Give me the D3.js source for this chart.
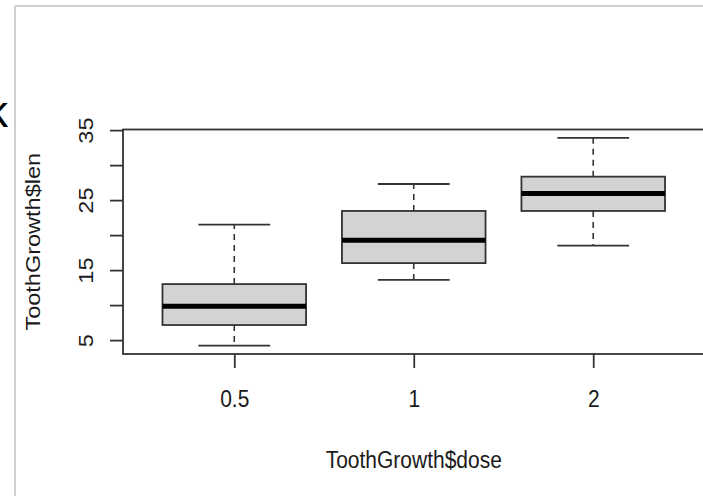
<!DOCTYPE html>
<html>
<head>
<meta charset="UTF-8">
<title>ToothGrowth boxplot</title>
<style>
    body { margin: 0; background: #fff; }
    text { font-family: "Liberation Sans", Arial, sans-serif; fill: #1a1a1a; }
</style>
</head>
<body>
<script src="https://cdn.jsdelivr.net/npm/d3@7"></script>
<svg id="svg" width="703" height="496"></svg>
<script>
    // boxplot stats per dose group (whisker low, lower hinge, median, upper hinge, whisker high)
    var doses = ["0.5", "1", "2"];
    var lowWhisker = [4.2, 13.6, 18.5];
    var lowerHinge = [7.15, 16.0, 23.45];
    var medians = [9.85, 19.25, 25.95];
    var upperHinge = [13.0, 23.45, 28.35];
    var highWhisker = [21.5, 27.3, 33.9];
    var yTicks = [5, 10, 15, 20, 25, 30, 35];
    var yLabelled = [5, 15, 25, 35];

    var svg = d3.select("#svg"),
        stretch = 1.12; // the screenshot is a bit taller than wide

    // page frame of the screenshot
    svg.append("line").attr("x1", 15).attr("y1", 6).attr("x2", 15).attr("y2", 496)
        .attr("stroke", "#cfcfcf").attr("stroke-width", 2);
    svg.append("line").attr("x1", 15).attr("y1", 6).attr("x2", 703).attr("y2", 6)
        .attr("stroke", "#cfcfcf").attr("stroke-width", 2);
    // cut off letter at the left edge
    svg.append("text").attr("x", 8).attr("y", 127).attr("text-anchor", "end")
        .style("font-size", "44px").style("fill", "#000").text("k");

    var x = d3.scaleLinear().domain([0.38, 3.62]).range([123, 704.5]),
        y = d3.scaleLinear().domain([3.012, 35.088]).range([354, 129.5]);

    var g = svg.append("g");

    // y axis
    var yAxis = g.append("g").attr("transform", "translate(123,0)")
        .call(d3.axisLeft(y).tickValues(yTicks).tickSize(13)
            .tickFormat(function (d) { return yLabelled.indexOf(d) >= 0 ? d : ""; }));
    yAxis.select(".domain").remove();
    yAxis.selectAll("line").attr("stroke", "#333").attr("stroke-width", 1.8);
    yAxis.selectAll("text").attr("x", 0).attr("dy", 0).attr("text-anchor", "middle")
        .attr("transform", "translate(-30,0) scale(1," + stretch + ") rotate(-90)")
        .attr("font-family", null).attr("font-size", null).style("font-size", "21px");

    // x axis
    var xAxis = g.append("g").attr("transform", "translate(0,354)")
        .call(d3.axisBottom(x).tickValues([1, 2, 3]).tickSize(14)
            .tickFormat(function (d) { return doses[d - 1]; }));
    xAxis.select(".domain").remove();
    xAxis.selectAll("line").attr("stroke", "#333").attr("stroke-width", 1.8);
    xAxis.selectAll("text").attr("y", 0).attr("dy", 0)
        .attr("transform", "translate(0,53) scale(1," + stretch + ")")
        .attr("font-family", null).attr("font-size", null).style("font-size", "21px");

    // boxes
    doses.forEach(function (d, i) {
        var c = i + 1;
        // whiskers
        g.append("line").attr("x1", x(c)).attr("x2", x(c))
            .attr("y1", y(upperHinge[i])).attr("y2", y(highWhisker[i]))
            .attr("stroke", "#333").attr("stroke-width", 1.6).attr("stroke-dasharray", "6,5");
        g.append("line").attr("x1", x(c)).attr("x2", x(c))
            .attr("y1", y(lowerHinge[i])).attr("y2", y(lowWhisker[i]))
            .attr("stroke", "#333").attr("stroke-width", 1.6).attr("stroke-dasharray", "6,5");
        // staples
        g.append("line").attr("x1", x(c - 0.2)).attr("x2", x(c + 0.2))
            .attr("y1", y(highWhisker[i])).attr("y2", y(highWhisker[i]))
            .attr("stroke", "#333").attr("stroke-width", 1.8);
        g.append("line").attr("x1", x(c - 0.2)).attr("x2", x(c + 0.2))
            .attr("y1", y(lowWhisker[i])).attr("y2", y(lowWhisker[i]))
            .attr("stroke", "#333").attr("stroke-width", 1.8);
        // box
        g.append("rect").attr("x", x(c - 0.4)).attr("width", x(c + 0.4) - x(c - 0.4))
            .attr("y", y(upperHinge[i])).attr("height", y(lowerHinge[i]) - y(upperHinge[i]))
            .attr("fill", "#d3d3d3").attr("stroke", "#333").attr("stroke-width", 1.8);
        // median
        g.append("line").attr("x1", x(c - 0.4)).attr("x2", x(c + 0.4))
            .attr("y1", y(medians[i])).attr("y2", y(medians[i]))
            .attr("stroke", "#000").attr("stroke-width", 5);
    });

    // plot frame
    g.append("rect").attr("x", x(0.38)).attr("y", y(35.088))
        .attr("width", x(3.62) - x(0.38)).attr("height", y(3.012) - y(35.088))
        .attr("fill", "none").attr("stroke", "#333").attr("stroke-width", 1.8);

    // axis titles
    g.append("text").attr("text-anchor", "middle")
        .attr("transform", "translate(" + x(2) + ",468) scale(1," + stretch + ")")
        .style("font-size", "21px").text("ToothGrowth$dose");
    g.append("text").attr("text-anchor", "middle")
        .attr("transform", "translate(40," + ((y(3.012) + y(35.088)) / 2) + ") scale(1," + stretch + ") rotate(-90)")
        .style("font-size", "21px").text("ToothGrowth$len");
</script>
</body>
</html>
